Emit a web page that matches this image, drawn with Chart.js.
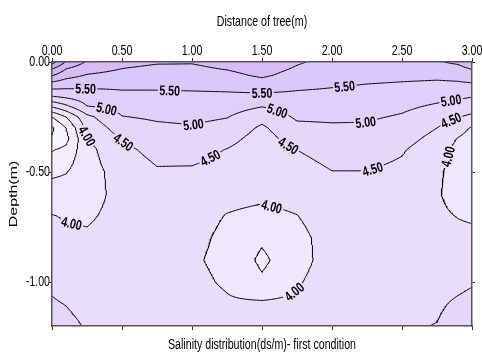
<!DOCTYPE html>
<html><head><meta charset="utf-8">
<script src="https://cdn.jsdelivr.net/npm/chart.js@4.4.1/dist/chart.umd.min.js"></script>
<style>html,body{margin:0;padding:0;background:#fff;overflow:hidden}</style>
</head><body>
<canvas id="c" width="482" height="354"></canvas>
<script>
// Narrow face (Arial Narrow look) and stretched face, drawn from Liberation Sans with a horizontal scale
const FAM = "'Liberation Sans Narrow','Liberation Sans',Arial,sans-serif";
const FAM_WIDE = "'Liberation Sans Wide','Liberation Sans',Arial,sans-serif";
(function () {
  const proto = CanvasRenderingContext2D.prototype;
  const _fill = proto.fillText, _measure = proto.measureText;
  const factor = c => c.font.indexOf('Narrow') >= 0 ? 0.76 : (c.font.indexOf('Wide') >= 0 ? 1.45 : 1);
  proto.fillText = function (text, x, y, maxW) {
    const f = factor(this);
    if (f === 1) return _fill.apply(this, arguments);
    this.save(); this.translate(x, y); this.scale(f, 1);
    if (maxW !== undefined && maxW !== null) _fill.call(this, text, 0, 0, maxW / f);
    else _fill.call(this, text, 0, 0);
    this.restore();
  };
  proto.measureText = function (text) {
    const m = _measure.call(this, text);
    const f = factor(this);
    if (f === 1) return m;
    return {
      width: m.width * f,
      actualBoundingBoxAscent: m.actualBoundingBoxAscent, actualBoundingBoxDescent: m.actualBoundingBoxDescent,
      actualBoundingBoxLeft: m.actualBoundingBoxLeft * f, actualBoundingBoxRight: m.actualBoundingBoxRight * f,
      fontBoundingBoxAscent: m.fontBoundingBoxAscent, fontBoundingBoxDescent: m.fontBoundingBoxDescent
    };
  };
})();

// axis ticks
const xTickValues = [0, 0.5, 1.0, 1.5, 2.0, 2.5, 3.0];
const yTickValues = [0, -0.5, -1.0];

// measurement grid: distance (m) and depth (m)
const gridX = [0, 0.1, 0.25, 0.5, 0.75, 1.0, 1.25, 1.5, 1.75, 2.0, 2.25, 2.5, 2.75, 2.9, 3.0];
const gridDepth = [0, 0.03, 0.06, 0.1, 0.15, 0.2, 0.25, 0.3, 0.35, 0.4, 0.5, 0.6, 0.7, 0.8, 0.9, 1.0, 1.1, 1.2];

// salinity (ds/m) per depth row, across gridX
const s_d000 = [7.70, 6.95, 6.45, 6.15, 6.05, 6.03, 6.15, 6.35, 6.05, 5.85, 5.88, 5.92, 5.97, 6.06, 6.22];
const s_d003 = [7.05, 6.52, 6.20, 6.00, 5.90, 5.92, 6.03, 6.20, 5.95, 5.78, 5.80, 5.82, 5.85, 5.90, 6.03];
const s_d006 = [6.55, 6.19, 5.97, 5.85, 5.78, 5.80, 5.88, 6.08, 5.83, 5.68, 5.70, 5.65, 5.63, 5.68, 5.82];
const s_d010 = [5.83, 5.72, 5.64, 5.60, 5.60, 5.62, 5.65, 5.80, 5.62, 5.55, 5.50, 5.45, 5.40, 5.42, 5.45];
const s_d015 = [5.11, 5.21, 5.30, 5.42, 5.42, 5.43, 5.44, 5.43, 5.42, 5.40, 5.36, 5.30, 5.17, 5.12, 5.07];
const s_d020 = [4.10, 4.42, 5.00, 5.18, 5.25, 5.28, 5.23, 5.03, 5.25, 5.25, 5.22, 5.10, 4.94, 4.82, 4.73];
const s_d025 = [3.00, 3.50, 4.37, 4.98, 5.07, 5.12, 5.02, 4.65, 5.07, 5.08, 5.06, 4.95, 4.72, 4.52, 4.40];
const s_d030 = [2.42, 3.00, 4.13, 4.75, 4.90, 4.95, 4.82, 4.42, 4.88, 4.93, 4.93, 4.80, 4.50, 4.20, 3.95];
const s_d035 = [2.55, 2.85, 3.95, 4.53, 4.77, 4.82, 4.65, 4.30, 4.70, 4.80, 4.80, 4.67, 4.35, 3.97, 3.80];
const s_d040 = [2.97, 3.13, 3.85, 4.38, 4.65, 4.68, 4.48, 4.22, 4.50, 4.68, 4.68, 4.54, 4.22, 3.85, 3.70];
const s_d050 = [3.40, 3.48, 3.80, 4.20, 4.45, 4.43, 4.30, 4.12, 4.30, 4.49, 4.49, 4.40, 4.10, 3.78, 3.62];
const s_d060 = [3.74, 3.72, 3.85, 4.12, 4.30, 4.28, 4.14, 4.10, 4.15, 4.35, 4.37, 4.30, 4.05, 3.80, 3.70];
const s_d070 = [4.02, 3.96, 3.95, 4.12, 4.22, 4.18, 3.98, 3.88, 3.99, 4.25, 4.30, 4.25, 4.10, 3.98, 3.92];
const s_d080 = [4.16, 4.10, 4.05, 4.15, 4.18, 4.12, 3.90, 3.58, 3.86, 4.20, 4.27, 4.25, 4.20, 4.15, 4.15];
const s_d090 = [4.29, 4.23, 4.15, 4.20, 4.20, 4.06, 3.88, 3.40, 3.83, 4.20, 4.28, 4.30, 4.30, 4.30, 4.33];
const s_d100 = [4.43, 4.36, 4.27, 4.26, 4.25, 4.12, 3.94, 3.58, 3.95, 4.25, 4.32, 4.36, 4.38, 4.42, 4.47];
const s_d110 = [4.54, 4.49, 4.38, 4.32, 4.30, 4.18, 4.06, 4.08, 4.10, 4.32, 4.38, 4.44, 4.45, 4.55, 4.60];
const s_d120 = [4.65, 4.60, 4.47, 4.38, 4.35, 4.25, 4.15, 4.20, 4.20, 4.40, 4.46, 4.46, 4.51, 4.65, 4.72];
const salinityRows = [s_d000, s_d003, s_d006, s_d010, s_d015, s_d020, s_d025, s_d030, s_d035,
  s_d040, s_d050, s_d060, s_d070, s_d080, s_d090, s_d100, s_d110, s_d120];

// contour levels and fill colour per band (below first level ... above last level)
const contourLevels = [2.5, 3.0, 3.5, 4.0, 4.5, 5.0, 5.5, 6.0, 6.5, 7.0, 7.5];
const bandColors = ['#fcfaff', '#f8f4ff', '#f4eeff', '#efe7fe', '#e9ddfc', '#e5d6fc',
  '#e1cffb', '#dcc7fa', '#d6bdf6', '#d0b4f4', '#cbacf2', '#c6a4ef'];

// contour labels: level, approximate distance, approximate depth
const labelLevels = [5.5, 5.5, 5.5, 5.5, 5.0, 5.0, 5.0, 5.0, 5.0, 4.5, 4.5, 4.5, 4.5, 4.5, 4.0, 4.0, 4.0, 4.0, 4.0];
const labelX = [0.236, 0.843, 1.5, 2.09, 0.393, 1.007, 1.614, 2.236, 2.85, 0.5, 1.129, 1.7, 2.29, 2.843, 0.236, 0.143, 1.571, 1.721, 2.843];
const labelDepth = [0.118, 0.132, 0.141, 0.105, 0.218, 0.286, 0.218, 0.277, 0.173, 0.368, 0.436, 0.364, 0.49, 0.25, 0.341, 0.732, 0.659, 1.036, 0.432];

// ---------- field interpolation ----------
function fieldAt(x, d) {
  let i = 0; while (i < gridX.length - 2 && x > gridX[i + 1]) i++;
  let j = 0; while (j < gridDepth.length - 2 && d > gridDepth[j + 1]) j++;
  const tx = Math.min(1, Math.max(0, (x - gridX[i]) / (gridX[i + 1] - gridX[i])));
  const ty = Math.min(1, Math.max(0, (d - gridDepth[j]) / (gridDepth[j + 1] - gridDepth[j])));
  const a = salinityRows[j][i], b = salinityRows[j][i + 1];
  const c = salinityRows[j + 1][i], e = salinityRows[j + 1][i + 1];
  return (a * (1 - tx) + b * tx) * (1 - ty) + (c * (1 - tx) + e * tx) * ty;
}

const NX = 301, NY = 241;
const X0 = gridX[0], X1 = gridX[gridX.length - 1], D1 = gridDepth[gridDepth.length - 1];
const fx = [], fd = [];
for (let i = 0; i < NX; i++) fx.push(X0 + (X1 - X0) * i / (NX - 1));
for (let j = 0; j < NY; j++) fd.push(D1 * j / (NY - 1));
const F = new Float64Array(NX * NY);
for (let j = 0; j < NY; j++) for (let i = 0; i < NX; i++) F[j * NX + i] = fieldAt(fx[i], fd[j]);

function traceLevel(L) {
  const segs = [], edgeSegs = new Map(), pts = new Map();
  function edgePoint(id) {
    if (pts.has(id)) return pts.get(id);
    const cell = id >> 1, i = cell % NX, j = (cell - i) / NX;
    let p;
    if ((id & 1) === 0) {
      const v1 = F[j * NX + i], v2 = F[j * NX + i + 1], t = (L - v1) / (v2 - v1);
      p = [fx[i] + t * (fx[i + 1] - fx[i]), fd[j]];
    } else {
      const v1 = F[j * NX + i], v2 = F[(j + 1) * NX + i], t = (L - v1) / (v2 - v1);
      p = [fx[i], fd[j] + t * (fd[j + 1] - fd[j])];
    }
    pts.set(id, p); return p;
  }
  function addSeg(e1, e2) {
    const k = segs.length; segs.push([e1, e2]);
    for (const e of [e1, e2]) { if (!edgeSegs.has(e)) edgeSegs.set(e, []); edgeSegs.get(e).push(k); }
  }
  for (let j = 0; j < NY - 1; j++) for (let i = 0; i < NX - 1; i++) {
    const a = F[j * NX + i], b = F[j * NX + i + 1], c = F[(j + 1) * NX + i + 1], d = F[(j + 1) * NX + i];
    const sa = a >= L, sb = b >= L, sc = c >= L, sd = d >= L;
    const top = (j * NX + i) * 2, bottom = ((j + 1) * NX + i) * 2;
    const left = (j * NX + i) * 2 + 1, right = (j * NX + i + 1) * 2 + 1;
    const cr = [];
    if (sa !== sb) cr.push(top);
    if (sb !== sc) cr.push(right);
    if (sc !== sd) cr.push(bottom);
    if (sd !== sa) cr.push(left);
    if (cr.length === 2) addSeg(cr[0], cr[1]);
    else if (cr.length === 4) {
      const sm = (a + b + c + d) / 4 >= L;
      if (sm === sa) { addSeg(top, right); addSeg(bottom, left); }
      else { addSeg(left, top); addSeg(right, bottom); }
    }
  }
  const used = new Uint8Array(segs.length), polys = [];
  function walk(start) {
    const out = []; let e = start;
    for (;;) {
      const list = edgeSegs.get(e) || [];
      let k = -1; for (const s of list) if (!used[s]) { k = s; break; }
      if (k < 0) break;
      used[k] = 1;
      const nx = segs[k][0] === e ? segs[k][1] : segs[k][0];
      out.push(nx); e = nx;
    }
    return out;
  }
  for (let s = 0; s < segs.length; s++) {
    if (used[s]) continue; used[s] = 1;
    const fwd = walk(segs[s][1]);
    const bwd = walk(segs[s][0]);
    const chain = bwd.reverse().concat([segs[s][0], segs[s][1]], fwd);
    polys.push(chain.map(edgePoint));
  }
  return polys;
}

const contourPolys = contourLevels.map(traceLevel);

const datasets = contourLevels.map((L, li) => {
  const data = [];
  for (const poly of contourPolys[li]) {
    for (const p of poly) data.push({ x: p[0], y: -p[1] });
    data.push({ x: null, y: null });
  }
  return {
    label: L.toFixed(2), data, showLine: true, pointRadius: 0, borderColor: '#000',
    borderWidth: 1, spanGaps: false, tension: 0, borderCapStyle: 'round', borderJoinStyle: 'round'
  };
});

function hexToRgb(h) { return [parseInt(h.slice(1, 3), 16), parseInt(h.slice(3, 5), 16), parseInt(h.slice(5, 7), 16)]; }

const LABEL_FONT = 'bold 14px ' + FAM;

function computeLabels(chart) {
  const xs = chart.scales.x, ys = chart.scales.y, ctx = chart.ctx;
  ctx.save(); ctx.font = LABEL_FONT;
  const out = [];
  for (let k = 0; k < labelLevels.length; k++) {
    const li = contourLevels.indexOf(labelLevels[k]);
    const ax = xs.getPixelForValue(labelX[k]), ay = ys.getPixelForValue(-labelDepth[k]);
    let best = null, bd = Infinity;
    for (const poly of contourPolys[li]) {
      const pp = poly.map(p => [xs.getPixelForValue(p[0]), ys.getPixelForValue(-p[1])]);
      for (let i = 0; i < pp.length; i++) {
        const dd = (pp[i][0] - ax) ** 2 + (pp[i][1] - ay) ** 2;
        if (dd < bd) { bd = dd; best = { pp, i }; }
      }
    }
    if (!best) continue;
    const { pp, i } = best;
    const a = pp[Math.max(0, i - 6)], b = pp[Math.min(pp.length - 1, i + 6)];
    let ang = Math.atan2(b[1] - a[1], b[0] - a[0]);
    if (ang > Math.PI / 2) ang -= Math.PI;
    if (ang < -Math.PI / 2) ang += Math.PI;
    const text = labelLevels[k].toFixed(2);
    const w = ctx.measureText(text).width + 3;
    out.push({ x: pp[i][0], y: pp[i][1], ang, text, w, h: 11 });
  }
  ctx.restore();
  return out;
}

const contourPlugin = {
  id: 'contourFill',
  beforeDatasetsDraw(chart) {
    const { ctx, chartArea: ca, scales } = chart;
    const xs = scales.x, ys = scales.y;
    const L = Math.round(ca.left), T = Math.round(ca.top);
    const W = Math.round(ca.right) - L, H = Math.round(ca.bottom) - T;
    const img = ctx.createImageData(W, H);
    const pal = bandColors.map(hexToRgb);
    const xv = []; for (let px = 0; px < W; px++) xv.push(xs.getValueForPixel(L + px + 0.5));
    for (let py = 0; py < H; py++) {
      const d = -ys.getValueForPixel(T + py + 0.5);
      for (let px = 0; px < W; px++) {
        const v = fieldAt(xv[px], d);
        let k = 0; while (k < contourLevels.length && v >= contourLevels[k]) k++;
        const c = pal[k], o = (py * W + px) * 4;
        img.data[o] = c[0]; img.data[o + 1] = c[1]; img.data[o + 2] = c[2]; img.data[o + 3] = 255;
      }
    }
    ctx.putImageData(img, L, T);
    chart.$labels = computeLabels(chart);
    ctx.save();
    ctx.beginPath();
    ctx.rect(0, 0, chart.width, chart.height);
    for (const lb of chart.$labels) {
      const c = Math.cos(lb.ang), s = Math.sin(lb.ang);
      const hw = lb.w / 2, hh = lb.h / 2;
      const pts = [[-hw, -hh], [hw, -hh], [hw, hh], [-hw, hh]].map(([u, v]) => [lb.x + u * c - v * s, lb.y + u * s + v * c]);
      ctx.moveTo(pts[0][0], pts[0][1]);
      for (let q = 1; q < 4; q++) ctx.lineTo(pts[q][0], pts[q][1]);
      ctx.closePath();
    }
    ctx.clip('evenodd');
  },
  afterDatasetsDraw(chart) {
    const ctx = chart.ctx;
    ctx.restore();
    ctx.save();
    ctx.font = LABEL_FONT; ctx.fillStyle = '#000';
    ctx.textAlign = 'center'; ctx.textBaseline = 'middle';
    for (const lb of chart.$labels || []) {
      ctx.save(); ctx.translate(lb.x, lb.y); ctx.rotate(lb.ang);
      ctx.fillText(lb.text, 0, 1);
      ctx.restore();
    }
    ctx.restore();
  }
};

const tickFont = { size: 14, family: FAM };
const titleFont = { size: 14, family: FAM };
const gridOpts = (tl) => ({ drawOnChartArea: false, drawTicks: true, tickLength: tl, color: '#333', lineWidth: 1 });
const borderOpts = { color: '#555', width: 1.5, z: 1 };

new Chart(document.getElementById('c'), {
  type: 'scatter',
  data: { datasets },
  options: {
    responsive: false, animation: false, devicePixelRatio: 1,
    layout: { padding: 0 },
    plugins: { legend: { display: false }, tooltip: { enabled: false } },
    scales: {
      x: {
        type: 'linear', position: 'top', min: 0, max: 3,
        afterBuildTicks: s => { s.ticks = xTickValues.map(v => ({ value: v })); },
        ticks: { callback: v => Number(v).toFixed(2), font: tickFont, color: '#000', padding: -2, maxRotation: 0, autoSkip: false },
        grid: gridOpts(4), border: borderOpts,
        title: { display: true, text: 'Distance of tree(m)', font: titleFont, color: '#000', padding: { top: 14, bottom: 0 } },
        afterFit: s => { s.height = 62; s.paddingLeft = 0; s.paddingRight = 0; }
      },
      x2: {
        type: 'linear', position: 'bottom', min: 0, max: 3,
        afterBuildTicks: s => { s.ticks = xTickValues.map(v => ({ value: v })); },
        ticks: { display: false },
        grid: gridOpts(4), border: borderOpts,
        title: { display: true, text: 'Salinity distribution(ds/m)- first condition', font: titleFont, color: '#000', padding: { top: 0, bottom: 0 } },
        afterFit: s => { s.height = 28; s.paddingLeft = 0; s.paddingRight = 0; }
      },
      y: {
        type: 'linear', position: 'left', min: -1.2, max: 0,
        afterBuildTicks: s => { s.ticks = yTickValues.map(v => ({ value: v })); },
        ticks: { callback: v => Number(v).toFixed(2), font: tickFont, color: '#000', padding: -1, autoSkip: false },
        grid: gridOpts(3), border: borderOpts,
        title: { display: true, text: 'Depth(m)', font: { size: 11, family: FAM_WIDE }, color: '#000', padding: { top: 7, bottom: 0 } },
        afterFit: s => { s.width = 52; s.paddingTop = 0; s.paddingBottom = 0; }
      },
      y2: {
        type: 'linear', position: 'right', min: -1.2, max: 0,
        afterBuildTicks: s => { s.ticks = yTickValues.map(v => ({ value: v })); },
        ticks: { display: false },
        grid: gridOpts(3), border: borderOpts,
        afterFit: s => { s.width = 10; s.paddingTop = 0; s.paddingBottom = 0; }
      }
    }
  },
  plugins: [contourPlugin]
});
</script>
</body></html>
